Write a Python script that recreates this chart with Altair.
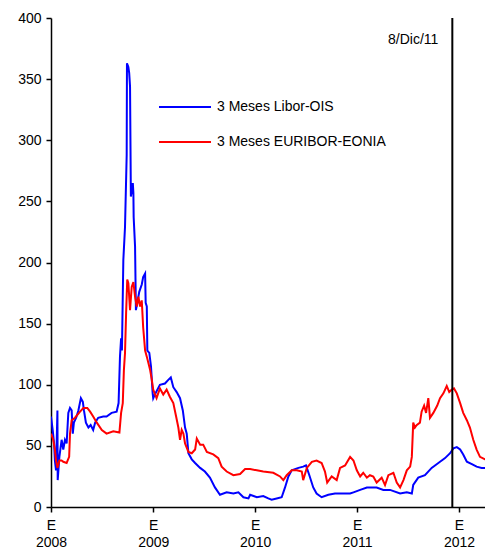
import altair as alt
import pandas as pd

series_names = ["3 Meses Libor-OIS", "3 Meses EURIBOR-EONIA"]
series_colors = ["#0000FF", "#FF0000"]

libor_dates = [
    "2008-01-01", "2008-01-07", "2008-01-12", "2008-01-15", "2008-01-19", "2008-01-24",
    "2008-01-25", "2008-01-31", "2008-02-08", "2008-02-14", "2008-02-20", "2008-02-26",
    "2008-03-03", "2008-03-09", "2008-03-15", "2008-03-19", "2008-03-23", "2008-03-31",
    "2008-04-08", "2008-04-17", "2008-04-24", "2008-04-28", "2008-05-05", "2008-05-14",
    "2008-05-22", "2008-05-31", "2008-06-07", "2008-06-18", "2008-07-06", "2008-07-18",
    "2008-08-05", "2008-08-23", "2008-08-30", "2008-09-04", "2008-09-08", "2008-09-11",
    "2008-09-16", "2008-09-22", "2008-09-28", "2008-09-29", "2008-10-04", "2008-10-07",
    "2008-10-10", "2008-10-13", "2008-10-20", "2008-10-22", "2008-10-23", "2008-10-28",
    "2008-10-31", "2008-11-05", "2008-11-12", "2008-11-21", "2008-11-26", "2008-12-03",
    "2008-12-05", "2008-12-09", "2008-12-11", "2008-12-18", "2008-12-24", "2008-12-30",
    "2009-01-01", "2009-01-07", "2009-01-25", "2009-02-12", "2009-02-24", "2009-03-05",
    "2009-03-14", "2009-03-26", "2009-04-07", "2009-04-17", "2009-04-25", "2009-05-01",
    "2009-05-07", "2009-05-19", "2009-05-31", "2009-06-18", "2009-07-05", "2009-07-23",
    "2009-08-10", "2009-08-28", "2009-09-21", "2009-10-15", "2009-11-02", "2009-11-20",
    "2009-12-08", "2009-12-14", "2010-01-07", "2010-01-30", "2010-02-17", "2010-03-01",
    "2010-03-19", "2010-04-06", "2010-04-18", "2010-04-30", "2010-05-12", "2010-06-05",
    "2010-06-22", "2010-07-02", "2010-07-14", "2010-07-28", "2010-08-09", "2010-08-27",
    "2010-09-20", "2010-10-14", "2010-11-13", "2010-12-07", "2010-12-19", "2011-01-12",
    "2011-02-05", "2011-03-12", "2011-04-05", "2011-04-29", "2011-06-04", "2011-06-28",
    "2011-07-16", "2011-07-21", "2011-08-08", "2011-09-01", "2011-09-25", "2011-10-19",
    "2011-11-12", "2011-11-30", "2011-12-12", "2011-12-24", "2012-01-05", "2012-01-16",
    "2012-01-29", "2012-02-16", "2012-03-04", "2012-03-22", "2012-04-09", "2012-05-01",
]
libor_values = [
    74, 63, 52, 38, 30, 79,
    22, 41, 55, 47, 55, 52,
    77, 81, 79, 60, 69, 73,
    79, 89, 86, 79, 69, 65,
    67, 63, 69, 73, 74, 74,
    77, 78, 85, 123, 138, 128,
    202, 229, 288, 363, 360, 355,
    344, 254, 265, 257, 237, 213,
    161, 167, 176, 182, 188, 191,
    167, 164, 128, 126, 115, 93,
    89, 92, 100, 101, 104, 106,
    98, 94, 89, 79, 65, 60,
    44, 39, 36, 32, 29, 24,
    16, 10, 12, 11, 12, 8,
    7, 10, 8, 9, 7, 6,
    7, 8, 16, 25, 30, 32,
    33, 34, 26, 16, 11, 8,
    10, 11, 11, 11, 12, 14,
    16, 16, 14, 14, 11, 12,
    11, 18, 24, 26, 32, 36,
    40, 44, 48, 49, 47, 43,
    37, 35, 33, 32, 32, 31,
]

euribor_dates = [
    "2008-01-01", "2008-01-09", "2008-01-15", "2008-01-19", "2008-01-24", "2008-01-31",
    "2008-02-08", "2008-02-14", "2008-02-26", "2008-03-06", "2008-03-09", "2008-03-15",
    "2008-03-27", "2008-04-14", "2008-04-26", "2008-05-10", "2008-05-20", "2008-05-31",
    "2008-06-13", "2008-07-01", "2008-07-18", "2008-08-11", "2008-09-02", "2008-09-08",
    "2008-09-14", "2008-09-18", "2008-09-22", "2008-09-26", "2008-09-30", "2008-10-04",
    "2008-10-10", "2008-10-16", "2008-10-22", "2008-10-28", "2008-11-03", "2008-11-09",
    "2008-11-15", "2008-11-21", "2008-11-26", "2008-12-03", "2008-12-09", "2008-12-21",
    "2008-12-27", "2009-01-01", "2009-01-13", "2009-01-25", "2009-02-06", "2009-02-18",
    "2009-03-02", "2009-03-14", "2009-03-24", "2009-04-01", "2009-04-07", "2009-04-13",
    "2009-04-19", "2009-04-25", "2009-05-07", "2009-05-19", "2009-05-31", "2009-06-06",
    "2009-06-18", "2009-06-29", "2009-07-12", "2009-08-04", "2009-08-22", "2009-09-03",
    "2009-09-21", "2009-10-15", "2009-11-08", "2009-11-26", "2009-12-14", "2010-01-07",
    "2010-01-30", "2010-03-07", "2010-03-31", "2010-04-12", "2010-04-24", "2010-05-12",
    "2010-05-30", "2010-06-17", "2010-06-22", "2010-07-05", "2010-07-23", "2010-08-09",
    "2010-08-27", "2010-09-08", "2010-09-16", "2010-10-02", "2010-10-20", "2010-11-01",
    "2010-11-19", "2010-12-07", "2010-12-19", "2010-12-31", "2011-01-12", "2011-01-23",
    "2011-02-05", "2011-02-16", "2011-02-28", "2011-03-12", "2011-03-30", "2011-04-11",
    "2011-04-23", "2011-05-11", "2011-05-23", "2011-06-04", "2011-06-16", "2011-06-28",
    "2011-07-10", "2011-07-16", "2011-07-21", "2011-07-27", "2011-08-02", "2011-08-14",
    "2011-08-20", "2011-08-29", "2011-09-05", "2011-09-13", "2011-09-19", "2011-10-01",
    "2011-10-15", "2011-10-25", "2011-11-06", "2011-11-18", "2011-11-27", "2011-12-06",
    "2011-12-14", "2011-12-24", "2012-01-05", "2012-01-16", "2012-01-29", "2012-02-09",
    "2012-02-21", "2012-03-04", "2012-03-16", "2012-04-03", "2012-04-21", "2012-05-01",
]
euribor_values = [
    60, 55, 47, 38, 32, 38,
    38, 37, 36, 41, 60, 71,
    73, 78, 81, 81, 78, 74,
    69, 63, 60, 62, 61, 77,
    85, 112, 126, 159, 186, 183,
    161, 180, 184, 172, 164, 172,
    164, 169, 147, 128, 123, 112,
    104, 96, 89, 97, 92, 96,
    90, 85, 74, 65, 55, 63,
    60, 52, 45, 44, 47, 56,
    51, 51, 45, 43, 40, 33,
    29, 26, 27, 31, 31, 30,
    29, 28, 25, 22, 26, 30,
    30, 29, 22, 32, 37, 38,
    36, 29, 20, 25, 22, 32,
    34, 41, 38, 30, 25, 28,
    24, 26, 25, 20, 24, 18,
    26, 28, 20, 16, 22, 30,
    33, 41, 69, 65, 67, 69,
    78, 83, 77, 89, 73, 77,
    83, 89, 93, 99, 94, 96,
    97, 93, 85, 77, 71, 65,
    55, 47, 41, 39, 38, 37,
]

y_ticks = [0, 50, 100, 150, 200, 250, 300, 350, 400]
x_tick_years = [2008, 2009, 2010, 2011, 2012]
marker_date = "2011-12-08"
marker_label = "8/Dic/11"

df = pd.concat([
    pd.DataFrame({"date": libor_dates, "valor": libor_values, "serie": series_names[0]}),
    pd.DataFrame({"date": euribor_dates, "valor": euribor_values, "serie": series_names[1]}),
])

FONT = "Liberation Sans"

x_scale = alt.Scale(
    type="utc",
    domain=[alt.DateTime(year=2008, month=1, date=1, utc=True),
            alt.DateTime(year=2012, month=4, date=3, utc=True)],
    nice=False,
)
x_axis = alt.Axis(
    values=[alt.DateTime(year=y, month=1, date=1, utc=True) for y in x_tick_years],
    labelExpr="['E', utcFormat(datum.value, '%Y')]",
    labelFlush=False,
    labelOverlap=False,
    labelBound=False,
    labelFontSize=14,
    labelLineHeight=17,
    labelPadding=6,
    title=None,
)
y_axis = alt.Axis(values=y_ticks, title=None, labelPadding=5)

lines = alt.Chart(df).mark_line(strokeWidth=2, clip=True).encode(
    x=alt.X("date:T", scale=x_scale, axis=x_axis),
    y=alt.Y("valor:Q", scale=alt.Scale(domain=[0, 400], nice=False), axis=y_axis),
    color=alt.Color(
        "serie:N",
        scale=alt.Scale(domain=series_names, range=series_colors),
        sort=series_names,
        legend=alt.Legend(
            title=None,
            orient="none",
            legendX=107,
            legendY=62,
            symbolType="stroke",
            symbolSize=2704,
            symbolStrokeWidth=2,
            labelFontSize=14,
            labelFont=FONT,
            labelColor="black",
            labelOffset=5,
            labelLimit=400,
            rowPadding=1,
        ),
    ),
    detail="serie:N",
    order=alt.Order("date:T"),
)

marker_df = pd.DataFrame({"date": [marker_date], "label": [marker_label]})
rule = alt.Chart(marker_df).mark_rule(color="black", strokeWidth=2).encode(x="date:T")
label = alt.Chart(marker_df).mark_text(
    align="right", baseline="middle", dx=-14, fontSize=14, font=FONT, color="black"
).encode(x="date:T", y=alt.value(22), text="label:N")

chart = alt.layer(lines, rule, label).properties(
    width=434,
    height=489,
    padding={"left": 43, "top": 10, "right": 0, "bottom": 43},
    autosize=alt.AutoSizeParams(type="none"),
).configure_view(stroke=None).configure_axis(
    grid=False,
    domainColor="black",
    domainWidth=1.5,
    tickColor="black",
    tickWidth=1.5,
    tickSize=5,
    labelFontSize=14,
    labelFont=FONT,
    labelColor="black",
)

chart.save("out.html", embed_options={"renderer": "svg", "actions": False})
